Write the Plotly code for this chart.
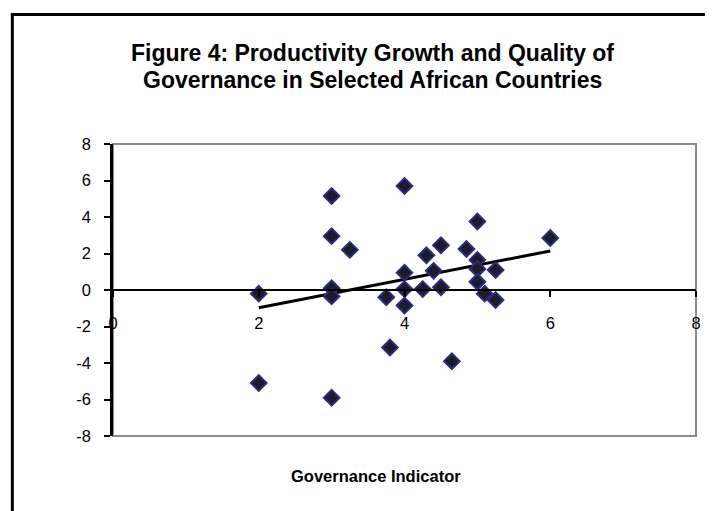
import plotly.graph_objects as go

# Data
governance = [2.0, 2.0, 3.0, 3.0, 3.25, 3.0, 3.0, 3.0, 3.75, 3.8, 4.0, 4.0, 4.0, 4.0,
              5.0, 6.0, 4.5, 4.85, 4.3, 5.0, 4.4, 5.0, 5.25, 5.0, 4.25, 4.5, 5.1, 5.25, 4.65]
growth = [-0.2, -5.1, 5.15, 2.95, 2.2, 0.1, -0.35, -5.9, -0.4, -3.15, 5.7, 0.95, 0.05, -0.85,
          3.75, 2.85, 2.45, 2.25, 1.9, 1.65, 1.05, 1.15, 1.1, 0.45, 0.05, 0.15, -0.2, -0.55, -3.9]
trend_x = [2.0, 6.0]
trend_y = [-0.97, 2.14]
x_ticks = [0, 2, 4, 6, 8]
y_ticks = [-8, -6, -4, -2, 0, 2, 4, 6, 8]

OFF = 8  # page body margin offset
W, H = 713 - OFF, 511 - OFF
L, R, T, B = 113 - OFF, 15, 144 - OFF, 75
PW, PH = W - L - R, H - T - B


def px_x(p):
    return (p - OFF - L) / PW


def px_y(p):
    return (H - B - (p - OFF)) / PH


fig = go.Figure()
fig.add_trace(go.Scatter(
    x=trend_x, y=trend_y, mode="lines",
    line=dict(color="black", width=3), showlegend=False, hoverinfo="skip"))
fig.add_trace(go.Scatter(
    x=governance, y=growth, mode="markers",
    marker=dict(symbol="diamond", size=12, color="#1c1c28",
                line=dict(color="#2b2b80", width=2)),
    showlegend=False))

font = "Liberation Sans, Arial, sans-serif"

fig.update_layout(
    width=W, height=H,
    margin=dict(l=L, r=R, t=T, b=B, pad=0),
    paper_bgcolor="white", plot_bgcolor="white",
    font=dict(family=font, color="black", size=14),
    xaxis=dict(
        range=[0, 8], tickvals=x_ticks, ticktext=[str(v) for v in x_ticks],
        anchor="free", position=0.5,
        showline=True, linecolor="black", linewidth=2,
        ticks="outside", ticklen=6, tickwidth=2, tickcolor="black",
        ticklabelstandoff=12,
        showgrid=False, zeroline=False,
        tickfont=dict(size=16.5, family=font)),
    yaxis=dict(
        range=[-8, 8], tickvals=y_ticks, ticktext=[str(v) for v in y_ticks],
        showline=True, linecolor="black", linewidth=2.5,
        ticks="outside", ticklen=6, tickwidth=2, tickcolor="black",
        ticklabelstandoff=10,
        showgrid=False, zeroline=False,
        tickfont=dict(size=16.5, family=font)),
    shapes=[
        dict(type="rect", xref="paper", yref="paper", x0=0, x1=1, y0=0, y1=1,
             line=dict(color="#8c8c8c", width=2), layer="below"),
        dict(type="line", xref="paper", yref="paper",
             x0=px_x(10.5), x1=px_x(720), y0=px_y(14.5), y1=px_y(14.5),
             line=dict(color="black", width=3), layer="above"),
        dict(type="line", xref="paper", yref="paper",
             x0=px_x(12), x1=px_x(12), y0=px_y(13), y1=px_y(520),
             line=dict(color="black", width=3), layer="above"),
    ],
    annotations=[
        dict(text="<b>Figure 4: Productivity Growth and Quality of</b>",
             xref="paper", yref="paper", x=px_x(373), y=px_y(53),
             xanchor="center", yanchor="middle", showarrow=False,
             font=dict(size=23, family=font, color="black")),
        dict(text="<b>Governance in Selected African Countries</b>",
             xref="paper", yref="paper", x=px_x(373), y=px_y(80),
             xanchor="center", yanchor="middle", showarrow=False,
             font=dict(size=23, family=font, color="black")),
        dict(text="<b>Governance Indicator</b>", xref="paper", yref="paper",
             x=px_x(377), y=px_y(476),
             xanchor="center", yanchor="middle", showarrow=False,
             font=dict(size=16.5, family=font, color="black")),
    ],
)

fig.write_html("out.html")
